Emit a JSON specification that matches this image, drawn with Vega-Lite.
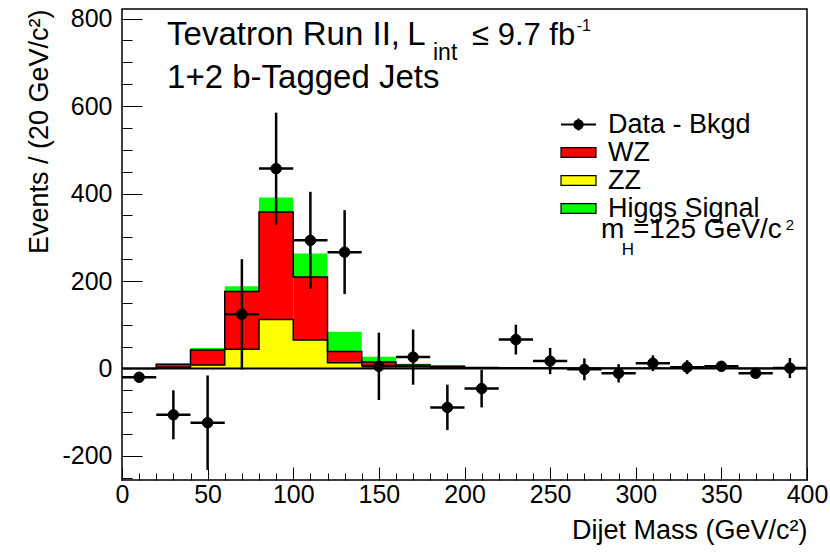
{
  "$schema": "https://vega.github.io/schema/vega-lite/v6.json",
  "width": 685,
  "height": 471,
  "autosize": {"type": "none"},
  "padding": {"left": 122, "top": 9, "right": 23, "bottom": 75},
  "background": "white",
  "config": {
    "view": {"stroke": "black", "strokeWidth": 1.5},
    "font": "Liberation Sans",
    "axis": {
      "grid": false, "domain": false, "tickColor": "black", "tickWidth": 1,
      "labelColor": "black", "titleColor": "black",
      "labelFont": "Liberation Sans", "titleFont": "Liberation Sans",
      "labelFontSize": 25, "titleFontSize": 27, "titleFontWeight": "normal",
      "labelFlush": false, "labelOverlap": false
    },
    "legend": {"labelFont": "Liberation Sans", "labelColor": "black", "labelLimit": 0}
  },
  "datasets": {
    "hist": [
      {"lo": 0, "hi": 20, "p": "ZZ", "n": 0, "o": 1}, {"lo": 0, "hi": 20, "p": "WZ", "n": 0, "o": 2}, {"lo": 0, "hi": 20, "p": "Higgs Signal", "n": 0, "o": 3},
      {"lo": 20, "hi": 40, "p": "ZZ", "n": 3, "o": 1}, {"lo": 20, "hi": 40, "p": "WZ", "n": 6.6, "o": 2}, {"lo": 20, "hi": 40, "p": "Higgs Signal", "n": 1.4, "o": 3},
      {"lo": 40, "hi": 60, "p": "ZZ", "n": 8, "o": 1}, {"lo": 40, "hi": 60, "p": "WZ", "n": 34, "o": 2}, {"lo": 40, "hi": 60, "p": "Higgs Signal", "n": 5, "o": 3},
      {"lo": 60, "hi": 80, "p": "ZZ", "n": 44, "o": 1}, {"lo": 60, "hi": 80, "p": "WZ", "n": 132, "o": 2}, {"lo": 60, "hi": 80, "p": "Higgs Signal", "n": 12, "o": 3},
      {"lo": 80, "hi": 100, "p": "ZZ", "n": 112, "o": 1}, {"lo": 80, "hi": 100, "p": "WZ", "n": 246, "o": 2}, {"lo": 80, "hi": 100, "p": "Higgs Signal", "n": 33, "o": 3},
      {"lo": 100, "hi": 120, "p": "ZZ", "n": 65, "o": 1}, {"lo": 100, "hi": 120, "p": "WZ", "n": 144, "o": 2}, {"lo": 100, "hi": 120, "p": "Higgs Signal", "n": 54, "o": 3},
      {"lo": 120, "hi": 140, "p": "ZZ", "n": 13, "o": 1}, {"lo": 120, "hi": 140, "p": "WZ", "n": 26, "o": 2}, {"lo": 120, "hi": 140, "p": "Higgs Signal", "n": 45, "o": 3},
      {"lo": 140, "hi": 160, "p": "ZZ", "n": 7, "o": 1}, {"lo": 140, "hi": 160, "p": "WZ", "n": 8, "o": 2}, {"lo": 140, "hi": 160, "p": "Higgs Signal", "n": 12, "o": 3},
      {"lo": 160, "hi": 180, "p": "ZZ", "n": 4, "o": 1}, {"lo": 160, "hi": 180, "p": "WZ", "n": 4, "o": 2}, {"lo": 160, "hi": 180, "p": "Higgs Signal", "n": 3, "o": 3},
      {"lo": 180, "hi": 200, "p": "ZZ", "n": 3, "o": 1}, {"lo": 180, "hi": 200, "p": "WZ", "n": 2, "o": 2}, {"lo": 180, "hi": 200, "p": "Higgs Signal", "n": 2.5, "o": 3},
      {"lo": 200, "hi": 220, "p": "ZZ", "n": 1.5, "o": 1}, {"lo": 200, "hi": 220, "p": "WZ", "n": 1, "o": 2}, {"lo": 200, "hi": 220, "p": "Higgs Signal", "n": 0.5, "o": 3},
      {"lo": 220, "hi": 240, "p": "ZZ", "n": 1, "o": 1}, {"lo": 220, "hi": 240, "p": "WZ", "n": 0.7, "o": 2}, {"lo": 220, "hi": 240, "p": "Higgs Signal", "n": 0.3, "o": 3},
      {"lo": 240, "hi": 260, "p": "ZZ", "n": 0.8, "o": 1}, {"lo": 240, "hi": 260, "p": "WZ", "n": 0.5, "o": 2}, {"lo": 240, "hi": 260, "p": "Higgs Signal", "n": 0.2, "o": 3},
      {"lo": 260, "hi": 280, "p": "ZZ", "n": 0.6, "o": 1}, {"lo": 260, "hi": 280, "p": "WZ", "n": 0.4, "o": 2}, {"lo": 260, "hi": 280, "p": "Higgs Signal", "n": 0.1, "o": 3},
      {"lo": 280, "hi": 300, "p": "ZZ", "n": 0.5, "o": 1}, {"lo": 280, "hi": 300, "p": "WZ", "n": 0.3, "o": 2}, {"lo": 280, "hi": 300, "p": "Higgs Signal", "n": 0.1, "o": 3},
      {"lo": 300, "hi": 320, "p": "ZZ", "n": 0.4, "o": 1}, {"lo": 300, "hi": 320, "p": "WZ", "n": 0.3, "o": 2}, {"lo": 300, "hi": 320, "p": "Higgs Signal", "n": 0.1, "o": 3},
      {"lo": 320, "hi": 340, "p": "ZZ", "n": 0.3, "o": 1}, {"lo": 320, "hi": 340, "p": "WZ", "n": 0.2, "o": 2}, {"lo": 320, "hi": 340, "p": "Higgs Signal", "n": 0, "o": 3},
      {"lo": 340, "hi": 360, "p": "ZZ", "n": 0.3, "o": 1}, {"lo": 340, "hi": 360, "p": "WZ", "n": 0.2, "o": 2}, {"lo": 340, "hi": 360, "p": "Higgs Signal", "n": 0, "o": 3},
      {"lo": 360, "hi": 380, "p": "ZZ", "n": 0.2, "o": 1}, {"lo": 360, "hi": 380, "p": "WZ", "n": 0.1, "o": 2}, {"lo": 360, "hi": 380, "p": "Higgs Signal", "n": 0, "o": 3},
      {"lo": 380, "hi": 400, "p": "ZZ", "n": 0.2, "o": 1}, {"lo": 380, "hi": 400, "p": "WZ", "n": 0.1, "o": 2}, {"lo": 380, "hi": 400, "p": "Higgs Signal", "n": 0, "o": 3}
    ],
    "pts": [
      {"m": 10, "lo": 0, "hi": 20, "v": -20, "e": 8},
      {"m": 30, "lo": 20, "hi": 40, "v": -106, "e": 56},
      {"m": 50, "lo": 40, "hi": 60, "v": -124, "e": 108},
      {"m": 70, "lo": 60, "hi": 80, "v": 124, "e": 126},
      {"m": 90, "lo": 80, "hi": 100, "v": 457, "e": 128},
      {"m": 110, "lo": 100, "hi": 120, "v": 293, "e": 111},
      {"m": 130, "lo": 120, "hi": 140, "v": 266, "e": 96},
      {"m": 150, "lo": 140, "hi": 160, "v": 5, "e": 77},
      {"m": 170, "lo": 160, "hi": 180, "v": 26, "e": 63},
      {"m": 190, "lo": 180, "hi": 200, "v": -89, "e": 52},
      {"m": 210, "lo": 200, "hi": 220, "v": -46, "e": 43},
      {"m": 230, "lo": 220, "hi": 240, "v": 66, "e": 34},
      {"m": 250, "lo": 240, "hi": 260, "v": 17, "e": 30},
      {"m": 270, "lo": 260, "hi": 280, "v": -2, "e": 25},
      {"m": 290, "lo": 280, "hi": 300, "v": -11, "e": 21},
      {"m": 310, "lo": 300, "hi": 320, "v": 12, "e": 18},
      {"m": 330, "lo": 320, "hi": 340, "v": 3, "e": 16},
      {"m": 350, "lo": 340, "hi": 360, "v": 5, "e": 11},
      {"m": 370, "lo": 360, "hi": 380, "v": -11, "e": 7},
      {"m": 390, "lo": 380, "hi": 400, "v": 1, "e": 23}
    ],
    "one": [{}]
  },
  "layer": [
    {
      "data": {"name": "hist"},
      "transform": [{"stack": "n", "groupby": ["lo"], "sort": [{"field": "o", "order": "ascending"}], "as": ["b0", "b1"]}],
      "mark": {"type": "rect", "strokeWidth": 0},
      "encoding": {
        "x": {"field": "lo", "type": "quantitative", "scale": {"domain": [0, 400], "nice": false, "zero": false},
          "axis": {
            "values": [0,10,20,30,40,50,60,70,80,90,100,110,120,130,140,150,160,170,180,190,200,210,220,230,240,250,260,270,280,290,300,310,320,330,340,350,360,370,380,390,400],
            "tickCount": 200,
            "labelExpr": "datum.value % 50 === 0 ? '' + datum.value : ''",
            "labelOverlap": false,
            "tickSize": -13, "labelPadding": 15,
            "tickDash": {"condition": {"test": "datum.value % 50 !== 0", "value": [7, 40]}, "value": [40, 1]},
            "title": "Dijet Mass (GeV/c²)", "titleAnchor": "end", "titlePadding": 10
          }},
        "x2": {"field": "hi"},
        "y": {"field": "b0", "type": "quantitative", "scale": {"domain": [-255, 822], "nice": false, "zero": false},
          "axis": {
            "values": [-250,-200,-150,-100,-50,0,50,100,150,200,250,300,350,400,450,500,550,600,650,700,750,800],
            "tickCount": 200,
            "labelExpr": "datum.value % 200 === 0 ? '' + datum.value : ''",
            "labelOverlap": false,
            "tickSize": -20, "labelPadding": 30,
            "tickDash": {"condition": {"test": "datum.value % 200 !== 0", "value": [10, 40]}, "value": [40, 1]},
            "title": "Events / (20 GeV/c²)", "titleAnchor": "end", "titlePadding": 8
          }},
        "y2": {"field": "b1"},
        "fill": {"field": "p", "type": "nominal",
          "scale": {"domain": ["WZ", "ZZ", "Higgs Signal"], "range": ["#ff0000", "#ffff00", "#00ff00"]},
          "legend": {
            "title": null, "orient": "none", "legendX": 443, "legendY": 130,
            "symbolType": "M-1.75,-0.48H1.75V0.48H-1.75Z", "symbolSize": 400,
            "symbolStrokeColor": "black", "symbolStrokeWidth": 1.2, "symbolOpacity": 1,
            "labelFontSize": 27, "labelOffset": 16, "rowPadding": 0, "padding": 0
          }}
      }
    },
    {
      "data": {"name": "hist"},
      "transform": [
        {"stack": "n", "groupby": ["lo"], "sort": [{"field": "o", "order": "ascending"}], "as": ["b0", "b1"]},
        {"filter": "datum.p !== 'Higgs Signal'"}
      ],
      "mark": {"type": "line", "interpolate": "step-after", "color": "black", "strokeWidth": 1.5},
      "encoding": {
        "x": {"field": "lo", "type": "quantitative", "title": "Dijet Mass (GeV/c²)"},
        "y": {"field": "b1", "type": "quantitative", "title": "Events / (20 GeV/c²)"},
        "detail": {"field": "p"}
      }
    },
    {
      "data": {"name": "one"},
      "mark": {"type": "rule", "color": "black", "strokeWidth": 2},
      "encoding": {"y": {"datum": 0, "type": "quantitative", "title": "Events / (20 GeV/c²)"}}
    },
    {
      "data": {"name": "pts"},
      "mark": {"type": "rule", "color": "black", "strokeWidth": 2.5},
      "encoding": {
        "x": {"field": "lo", "type": "quantitative", "title": "Dijet Mass (GeV/c²)"},
        "x2": {"field": "hi"},
        "y": {"field": "v", "type": "quantitative", "title": "Events / (20 GeV/c²)"}
      }
    },
    {
      "data": {"name": "pts"},
      "mark": {"type": "errorbar", "color": "black", "thickness": 2.5, "ticks": false},
      "encoding": {
        "x": {"field": "m", "type": "quantitative", "title": "Dijet Mass (GeV/c²)"},
        "y": {"field": "v", "type": "quantitative", "title": "Events / (20 GeV/c²)"},
        "yError": {"field": "e"}
      }
    },
    {
      "data": {"name": "pts"},
      "mark": {"type": "point", "shape": "circle", "filled": true, "fill": "black", "size": 110, "opacity": 1, "strokeWidth": 1},
      "encoding": {
        "x": {"field": "m", "type": "quantitative", "title": "Dijet Mass (GeV/c²)"},
        "y": {"field": "v", "type": "quantitative", "title": "Events / (20 GeV/c²)"},
        "stroke": {"datum": "Data - Bkgd", "type": "nominal", "scale": {"range": ["black"]},
          "legend": {
            "title": null, "orient": "none", "legendX": 443, "legendY": 102,
            "symbolType": "M-1.75,0H1.75M0,-0.6V0.6M-0.42,0A0.42,0.42,0,1,0,0.42,0A0.42,0.42,0,1,0,-0.42,0Z",
            "symbolSize": 400, "symbolFillColor": "black", "symbolStrokeWidth": 2, "symbolOpacity": 1,
            "labelFontSize": 27, "labelOffset": 16, "padding": 0
          }}
      }
    },
    {"data": {"name": "one"}, "mark": {"type": "text", "align": "left", "baseline": "alphabetic", "fontSize": 33, "font": "Liberation Sans", "color": "black"},
     "encoding": {"x": {"datum": 26.3, "type": "quantitative"}, "y": {"datum": 739.4, "type": "quantitative"}, "text": {"value": "Tevatron Run II,"}}},
    {"data": {"name": "one"}, "mark": {"type": "text", "align": "left", "baseline": "alphabetic", "fontSize": 33, "font": "Liberation Sans", "color": "black"},
     "encoding": {"x": {"datum": 166.5, "type": "quantitative"}, "y": {"datum": 739.4, "type": "quantitative"}, "text": {"value": "L"}}},
    {"data": {"name": "one"}, "mark": {"type": "text", "align": "left", "baseline": "alphabetic", "fontSize": 23, "font": "Liberation Sans", "color": "black"},
     "encoding": {"x": {"datum": 181.6, "type": "quantitative"}, "y": {"datum": 705, "type": "quantitative"}, "text": {"value": "int"}}},
    {"data": {"name": "one"}, "mark": {"type": "text", "align": "left", "baseline": "alphabetic", "fontSize": 31, "font": "Liberation Sans", "color": "black"},
     "encoding": {"x": {"datum": 204.4, "type": "quantitative"}, "y": {"datum": 739.4, "type": "quantitative"}, "text": {"value": "≤ 9.7 fb"}}},
    {"data": {"name": "one"}, "mark": {"type": "text", "align": "left", "baseline": "alphabetic", "fontSize": 16, "font": "Liberation Sans", "color": "black"},
     "encoding": {"x": {"datum": 265.5, "type": "quantitative"}, "y": {"datum": 772, "type": "quantitative"}, "text": {"value": "-1"}}},
    {"data": {"name": "one"}, "mark": {"type": "text", "align": "left", "baseline": "alphabetic", "fontSize": 33, "font": "Liberation Sans", "color": "black"},
     "encoding": {"x": {"datum": 26.3, "type": "quantitative"}, "y": {"datum": 640.5, "type": "quantitative"}, "text": {"value": "1+2 b-Tagged Jets"}}},
    {"data": {"name": "one"}, "mark": {"type": "text", "align": "left", "baseline": "alphabetic", "fontSize": 28, "font": "Liberation Sans", "color": "black"},
     "encoding": {"x": {"datum": 279.7, "type": "quantitative"}, "y": {"datum": 298.3, "type": "quantitative"}, "text": {"value": "m"}}},
    {"data": {"name": "one"}, "mark": {"type": "text", "align": "left", "baseline": "alphabetic", "fontSize": 17, "font": "Liberation Sans", "color": "black"},
     "encoding": {"x": {"datum": 291.8, "type": "quantitative"}, "y": {"datum": 260.5, "type": "quantitative"}, "text": {"value": "H"}}},
    {"data": {"name": "one"}, "mark": {"type": "text", "align": "left", "baseline": "alphabetic", "fontSize": 28, "font": "Liberation Sans", "color": "black"},
     "encoding": {"x": {"datum": 298.4, "type": "quantitative"}, "y": {"datum": 298.3, "type": "quantitative"}, "text": {"value": "=125 GeV/c"}}},
    {"data": {"name": "one"}, "mark": {"type": "text", "align": "left", "baseline": "alphabetic", "fontSize": 15, "font": "Liberation Sans", "color": "black"},
     "encoding": {"x": {"datum": 387.6, "type": "quantitative"}, "y": {"datum": 316.5, "type": "quantitative"}, "text": {"value": "2"}}}
  ]
}
